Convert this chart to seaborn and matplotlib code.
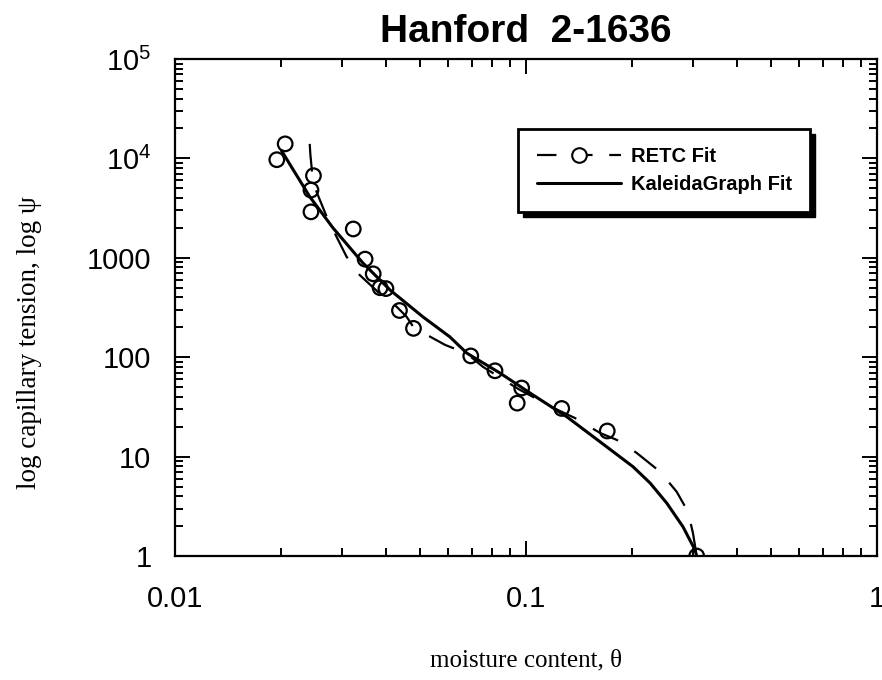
import matplotlib
matplotlib.use("Agg")
import matplotlib.pyplot as plt
import seaborn as sns
import pandas as pd
from matplotlib.lines import Line2D
from matplotlib.patches import Rectangle

# ---- data ----
obs_theta = [0.0195, 0.0206, 0.0248, 0.0244, 0.0244, 0.0322, 0.0348, 0.0367,
             0.0384, 0.0399, 0.0436, 0.0478, 0.0696, 0.0816, 0.0972, 0.0944,
             0.1264, 0.1704, 0.3064]
obs_psi = [9700, 14000, 6700, 4800, 2900, 1950, 970, 690,
           500, 490, 295, 195, 103, 73, 49, 34.5,
           30.5, 18.1, 1.0]

retc_theta = [0.0242, 0.0243, 0.0246, 0.0248, 0.0267, 0.0273, 0.0308, 0.0336,
              0.0385, 0.0428, 0.0457, 0.0477, 0.0533, 0.0588, 0.0678, 0.0754,
              0.0950, 0.1194, 0.1380, 0.1625, 0.1816, 0.2066, 0.2410, 0.2687,
              0.2894, 0.2990, 0.3064]
retc_psi = [14000, 11000, 7000, 5500, 2900, 2400, 1030, 670,
            430, 322, 255, 203, 161, 133, 109, 80,
            48, 31, 24.4, 17.3, 14.7, 10.9, 7.05, 4.43,
            2.79, 1.70, 1.0]

kg_theta = [0.0201, 0.0242, 0.0282, 0.0343, 0.0410, 0.0509, 0.0607, 0.0678,
            0.0843, 0.1047, 0.1306, 0.1625, 0.2018, 0.2256, 0.2517, 0.2800,
            0.3031, 0.3064]
kg_psi = [12000, 4120, 1995, 887, 474, 254, 160, 110,
          69.3, 41.7, 25.2, 14.1, 7.91, 5.43, 3.41, 1.97,
          1.15, 1.0]

x_ticks = [0.01, 0.1, 1]
x_ticklabels = ["0.01", "0.1", "1"]
y_ticks = [1, 10, 100, 1000, 1e4, 1e5]
y_ticklabels = ["1", "10", "100", "1000", r"$\mathregular{10^4}$", r"$\mathregular{10^5}$"]

title = "Hanford  2-1636"
xlabel = "moisture content, θ"
ylabel = "log capillary tension, log ψ"
legend_labels = ["RETC Fit", "KaleidaGraph Fit"]

# ---- style ----
sns.set_style("ticks")
plt.rcParams["font.family"] = ["Liberation Sans", "DejaVu Sans"]
plt.rcParams["mathtext.fontset"] = "custom"
plt.rcParams["mathtext.rm"] = "Liberation Sans"
plt.rcParams["lines.scale_dashes"] = False
plt.rcParams["text.color"] = "black"
plt.rcParams["axes.labelcolor"] = "black"
plt.rcParams["xtick.color"] = "black"
plt.rcParams["ytick.color"] = "black"

fig = plt.figure(figsize=(8.82, 6.80), dpi=100)
ax = fig.add_axes([175 / 882, 1 - 556 / 680, 702 / 882, 497 / 680])

df_retc = pd.DataFrame({"theta": retc_theta, "psi": retc_psi})
df_kg = pd.DataFrame({"theta": kg_theta, "psi": kg_psi})
df_obs = pd.DataFrame({"theta": obs_theta, "psi": obs_psi})

sns.lineplot(data=df_retc, x="theta", y="psi", sort=False, estimator=None,
             color="black", linewidth=1.6, dashes=False, ax=ax, zorder=2)
ax.lines[-1].set_dashes((20, 14))
sns.lineplot(data=df_kg, x="theta", y="psi", sort=False, estimator=None,
             color="black", linewidth=2.2, ax=ax, zorder=3)
sns.scatterplot(data=df_obs, x="theta", y="psi", marker="o", s=110,
                facecolor="none", edgecolor="black", linewidth=1.6,
                ax=ax, zorder=4)

ax.set_xscale("log")
ax.set_yscale("log")
ax.set_xlim(0.01, 1)
ax.set_ylim(1, 1e5)
ax.set_xticks(x_ticks)
ax.set_xticklabels(x_ticklabels)
ax.set_yticks(y_ticks)
ax.set_yticklabels(y_ticklabels)

for s in ax.spines.values():
    s.set_linewidth(1.6)
    s.set_color("black")
ax.tick_params(which="both", direction="in", top=True, right=True,
               color="black", width=1.4)
ax.tick_params(which="major", length=11, labelsize=21, colors="black")
ax.tick_params(axis="x", which="major", pad=21)
ax.tick_params(axis="y", which="major", pad=17)
ax.tick_params(which="minor", length=6)

ax.set_title(title, fontsize=28, fontweight="bold", pad=12)
ax.set_xlabel(xlabel, fontsize=18, family=["Liberation Serif", "DejaVu Serif"],
              labelpad=26)
ax.set_ylabel(ylabel, fontsize=19.5, family=["Liberation Serif", "DejaVu Serif"])
ax.yaxis.set_label_coords(-0.19, 0.43)

handles = [
    Line2D([], [], color="black", linewidth=1.6, dashes=(14, 12), marker="o",
           markersize=10.5, markerfacecolor="white", markeredgecolor="black",
           markeredgewidth=1.5),
    Line2D([], [], color="black", linewidth=2.2),
]
leg = ax.legend(handles, legend_labels, loc="upper right",
                bbox_to_anchor=(0.905, 0.859), frameon=True, fancybox=False,
                prop={"weight": "bold", "size": 14.5}, handlelength=4.2,
                handletextpad=0.5, labelspacing=0.45, borderpad=0.9,
                borderaxespad=0, numpoints=1)
leg.get_frame().set_edgecolor("black")
leg.get_frame().set_linewidth(2.0)
leg.get_frame().set_facecolor("white")
leg.get_frame().set_alpha(1)
leg.set_zorder(6)

fig.canvas.draw()
bb = leg.get_window_extent()
shadow = Rectangle((bb.x0 + 5, bb.y0 - 5), bb.width, bb.height,
                   transform=None, facecolor="black", edgecolor="black",
                   clip_on=False, zorder=5.5)
ax.add_patch(shadow)

fig.savefig("out.png", dpi=100)
